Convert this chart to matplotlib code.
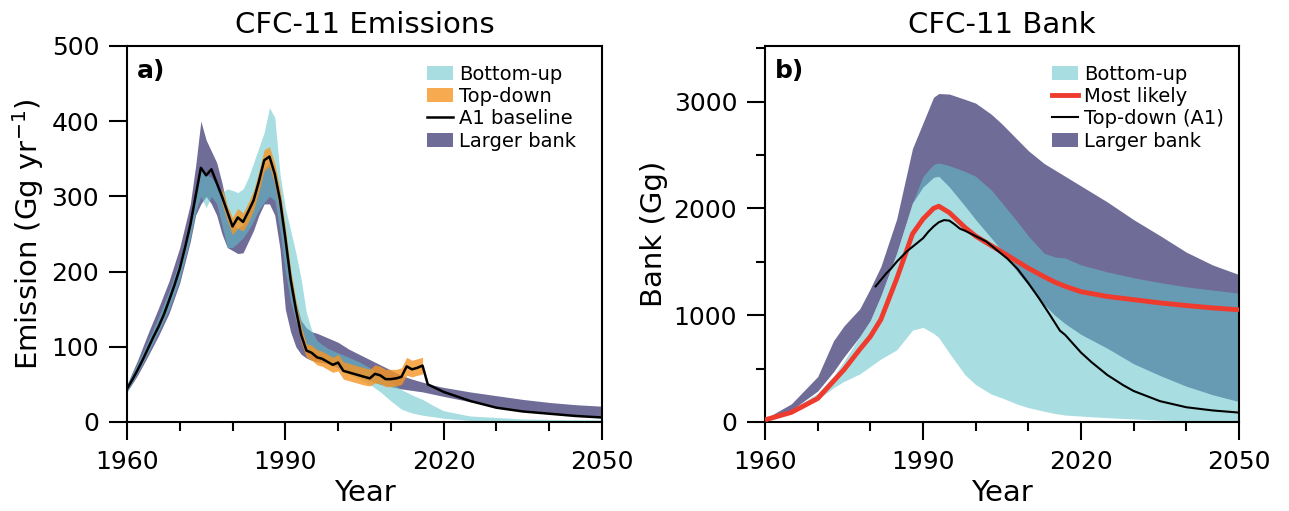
import matplotlib
matplotlib.use("Agg")
import matplotlib.pyplot as plt
from matplotlib.patches import Patch
from matplotlib.lines import Line2D
from matplotlib.ticker import MultipleLocator
import numpy as np

# ---------------- Panel a) CFC-11 Emissions ----------------
a1_years = [1960, 1961, 1962, 1963, 1964, 1965, 1966, 1967, 1968, 1969,
            1970, 1971, 1972, 1973, 1974, 1975, 1976, 1977, 1978, 1979,
            1980, 1981, 1982, 1983, 1984, 1985, 1986, 1987, 1988, 1989,
            1990, 1991, 1992, 1993, 1994, 1995, 1996, 1997, 1998, 1999,
            2000, 2001, 2002, 2003, 2004, 2005, 2006, 2007, 2008, 2009,
            2010, 2011, 2012, 2013, 2014, 2015, 2016, 2017, 2020, 2025,
            2030, 2035, 2040, 2045, 2050]
a1_emis = [44, 56, 69, 83, 98, 113, 127, 143, 162, 182,
           204, 232, 262, 300, 338, 328, 336, 318, 300, 280,
           260, 272, 266, 280, 295, 320, 348, 353, 330, 295,
           245, 190, 150, 116, 95, 92, 86, 84, 80, 76,
           79, 68, 66, 64, 62, 60, 58, 64, 62, 57,
           57, 58, 60, 74, 70, 72, 75, 50, 40, 28,
           19, 14, 11, 8, 6]

td_years = [1978, 1979, 1980, 1981, 1982, 1983, 1984, 1985, 1986, 1987,
            1988, 1989, 1990, 1991, 1992, 1993, 1994, 1995, 1996, 1997,
            1998, 1999, 2000, 2001, 2002, 2003, 2004, 2005, 2006, 2007,
            2008, 2009, 2010, 2011, 2012, 2013, 2014, 2015, 2016]
td_low = [290, 268, 249, 258, 254, 266, 282, 306, 334, 340,
          316, 280, 232, 178, 138, 106, 86, 82, 76, 74,
          70, 66, 68, 57, 55, 53, 51, 49, 48, 52,
          51, 47, 47, 48, 50, 62, 60, 62, 64]
td_high = [312, 288, 272, 284, 278, 292, 308, 334, 362, 366,
           344, 310, 260, 204, 162, 128, 104, 102, 96, 94,
           90, 86, 90, 80, 78, 76, 74, 72, 70, 76,
           74, 70, 70, 70, 72, 86, 82, 84, 86]

bu_years = [1960, 1962, 1964, 1966, 1968, 1970, 1972, 1973, 1974, 1975,
            1976, 1977, 1978, 1979, 1980, 1981, 1982, 1983, 1984, 1985,
            1986, 1987, 1988, 1989, 1990, 1991, 1992, 1993, 1994, 1995,
            1996, 1998, 2000, 2002, 2004, 2006, 2008, 2010, 2012, 2014,
            2016, 2018, 2020, 2025, 2030, 2035, 2040, 2045, 2050]
bu_low = [40, 65, 92, 120, 150, 190, 245, 280, 300, 285,
          300, 290, 262, 232, 232, 238, 245, 255, 268, 282,
          292, 300, 295, 255, 200, 160, 135, 115, 100, 92,
          88, 80, 72, 64, 57, 50, 40, 28, 17, 12,
          9, 7, 5, 2, 1, 0.5, 0.3, 0.2, 0.1]
bu_high = [50, 78, 108, 140, 175, 215, 270, 305, 340, 330,
           325, 315, 305, 310, 308, 305, 310, 325, 345, 365,
           385, 418, 405, 330, 285, 255, 225, 190, 145, 122,
           108, 98, 92, 86, 80, 72, 63, 53, 43, 36,
           30, 22, 15, 8, 6, 4, 3.5, 3, 3]

lb_years = [1960, 1962, 1964, 1966, 1968, 1970, 1972, 1973, 1974, 1975,
            1976, 1977, 1978, 1979, 1980, 1981, 1982, 1983, 1984, 1985,
            1986, 1987, 1988, 1989, 1990, 1991, 1992, 1993, 1994, 1995,
            1996, 1998, 2000, 2002, 2004, 2006, 2008, 2010, 2012, 2014,
            2016, 2018, 2020, 2025, 2030, 2035, 2040, 2045, 2050]
lb_low = [40, 62, 88, 115, 145, 185, 240, 275, 290, 300,
          290, 275, 250, 232, 228, 224, 225, 240, 255, 275,
          290, 290, 275, 230, 150, 120, 100, 90, 85, 82,
          80, 78, 72, 66, 60, 55, 50, 47, 44, 42,
          40, 37, 34, 27, 20, 15, 12, 9, 7]
lb_high = [50, 82, 118, 152, 188, 232, 290, 340, 400, 375,
           360, 345, 318, 285, 262, 258, 262, 280, 300, 320,
           338, 345, 330, 300, 250, 200, 160, 135, 125, 120,
           118, 112, 106, 97, 90, 83, 76, 69, 62, 57,
           53, 49, 46, 40, 35, 30, 26, 23, 21]

# ---------------- Panel b) CFC-11 Bank ----------------
bank_years = [1960, 1965, 1970, 1973, 1975, 1978, 1980, 1982, 1985, 1988,
              1990, 1992, 1993, 1995, 1998, 2000, 2003, 2005, 2008, 2010,
              2013, 2015, 2017, 2020, 2025, 2030, 2035, 2040, 2045, 2050]
bank_lb_low = [10, 110, 290, 470, 610, 800, 950, 1180, 1580, 2050,
               2200, 2290, 2300, 2200, 2020, 1894, 1720, 1600, 1400, 1280,
               1100, 1000, 920, 820, 690, 545, 435, 335, 255, 191]
bank_lb_high = [30, 170, 425, 760, 900, 1060, 1250, 1456, 1900, 2560,
                2800, 3040, 3075, 3070, 3020, 2985, 2880, 2790, 2640, 2540,
                2420, 2360, 2300, 2210, 2060, 1894, 1745, 1590, 1470, 1380]
bank_bu_low = [0, 80, 210, 320, 380, 450, 520, 590, 675, 860,
               885, 830, 790, 644, 440, 350, 260, 225, 165, 135,
               100, 80, 65, 55, 40, 28, 18, 12, 10, 8]
bank_bu_high = [10, 110, 270, 430, 570, 800, 950, 1180, 1580, 2050,
                2300, 2410, 2425, 2400, 2345, 2300, 2170, 2050, 1870, 1740,
                1580, 1545, 1535, 1470, 1405, 1350, 1305, 1265, 1235, 1206]

ml_years = [1960, 1965, 1970, 1975, 1978, 1980, 1982, 1985, 1988, 1990,
            1992, 1993, 1995, 1998, 2000, 2003, 2005, 2008, 2010, 2013,
            2015, 2017, 2020, 2025, 2030, 2035, 2040, 2045, 2050]
ml_bank = [20, 90, 220, 490, 680, 800, 960, 1340, 1760, 1900,
           2000, 2020, 1960, 1820, 1740, 1650, 1590, 1500, 1440, 1360,
           1310, 1270, 1220, 1175, 1145, 1115, 1090, 1068, 1050]

tdb_years = [1981, 1982, 1983, 1984, 1985, 1986, 1987, 1988, 1989, 1990,
             1991, 1992, 1993, 1994, 1995, 1996, 1997, 1998, 2000, 2002,
             2004, 2006, 2008, 2010, 2012, 2014, 2016, 2017, 2020, 2022,
             2025, 2028, 2030, 2035, 2040, 2045, 2050]
tdb_bank = [1270, 1330, 1390, 1440, 1500, 1550, 1600, 1640, 1680, 1720,
            1780, 1830, 1870, 1890, 1885, 1850, 1810, 1790, 1740, 1690,
            1610, 1530, 1430, 1300, 1160, 1010, 855, 815, 650, 560,
            440, 345, 290, 195, 138, 108, 88]

# ---------------- styling ----------------
PURPLE = "#706C98"
TEAL = "#61C3CA"
TEAL_ALPHA = 0.55
ORANGE = "#F59524"
ORANGE_ALPHA = 0.8
RED = "#EE3B2E"

plt.rcParams['font.family'] = ['DejaVu Sans']

fig = plt.figure(figsize=(12.89, 5.11), dpi=100)
ax1 = fig.add_axes([0.0985, 0.1742, 0.3685, 0.7358])
ax2 = fig.add_axes([0.5935, 0.1742, 0.3677, 0.7358])

# panel a
ax1.fill_between(lb_years, lb_low, lb_high, color=PURPLE, lw=0, zorder=1)
ax1.fill_between(bu_years, bu_low, bu_high, color=TEAL, alpha=TEAL_ALPHA, lw=0, zorder=2)
ax1.fill_between(td_years, td_low, td_high, color=ORANGE, alpha=ORANGE_ALPHA, lw=0, zorder=3)
ax1.plot(a1_years, a1_emis, color="black", lw=1.8, zorder=4)

# panel b
ax2.fill_between(bank_years, bank_lb_low, bank_lb_high, color=PURPLE, lw=0, zorder=1)
ax2.fill_between(bank_years, bank_bu_low, bank_bu_high, color=TEAL, alpha=TEAL_ALPHA, lw=0, zorder=2)
ax2.plot(ml_years, ml_bank, color=RED, lw=3.5, zorder=3, solid_capstyle='butt')
ax2.plot(tdb_years, tdb_bank, color="black", lw=1.5, zorder=4)

for ax in (ax1, ax2):
    ax.set_xlim(1960, 2050)
    ax.set_xticks([1960, 1990, 2020, 2050])
    ax.xaxis.set_minor_locator(MultipleLocator(10))
    for sp in ax.spines.values():
        sp.set_linewidth(1.5)
    ax.tick_params(which='major', direction='out', length=13, width=1.5,
                   labelsize=18, pad=7)
    ax.tick_params(which='minor', direction='out', length=6.5, width=1.5)
    ax.set_xlabel("Year", fontsize=21, labelpad=4)

ax1.set_ylim(0, 500)
ax1.set_yticks([0, 100, 200, 300, 400, 500])
ax1.set_ylabel("Emission (Gg yr$^{-1}$)", fontsize=21, labelpad=4)
ax1.set_title("CFC-11 Emissions", fontsize=21, pad=9)

ax2.set_ylim(0, 3520)
ax2.set_yticks([0, 1000, 2000, 3000])
ax2.yaxis.set_minor_locator(MultipleLocator(500))
ax2.set_ylabel("Bank (Gg)", fontsize=21, labelpad=4)
ax2.set_title("CFC-11 Bank", fontsize=21, pad=9)

ax1.text(0.021, 0.965, "a)", transform=ax1.transAxes, fontsize=18,
         fontweight='bold', va='top', ha='left')
ax2.text(0.021, 0.965, "b)", transform=ax2.transAxes, fontsize=18,
         fontweight='bold', va='top', ha='left')

leg_kw = dict(frameon=False, fontsize=14, labelspacing=0.17, handlelength=1.35,
              handleheight=0.75, handletextpad=0.3, borderpad=0, borderaxespad=0,
              loc='upper left')

h1 = [Patch(facecolor=TEAL, alpha=TEAL_ALPHA, edgecolor='none'),
      Patch(facecolor=ORANGE, alpha=ORANGE_ALPHA, edgecolor='none'),
      Line2D([], [], color='black', lw=1.8),
      Patch(facecolor=PURPLE, edgecolor='none')]
ax1.legend(h1, ["Bottom-up", "Top-down", "A1 baseline", "Larger bank"],
           bbox_to_anchor=(0.632, 0.950), **leg_kw)

h2 = [Patch(facecolor=TEAL, alpha=TEAL_ALPHA, edgecolor='none'),
      Line2D([], [], color=RED, lw=3.5),
      Line2D([], [], color='black', lw=1.5),
      Patch(facecolor=PURPLE, edgecolor='none')]
ax2.legend(h2, ["Bottom-up", "Most likely", "Top-down (A1)", "Larger bank"],
           bbox_to_anchor=(0.605, 0.950), **leg_kw)

fig.savefig("out.png", dpi=100)
